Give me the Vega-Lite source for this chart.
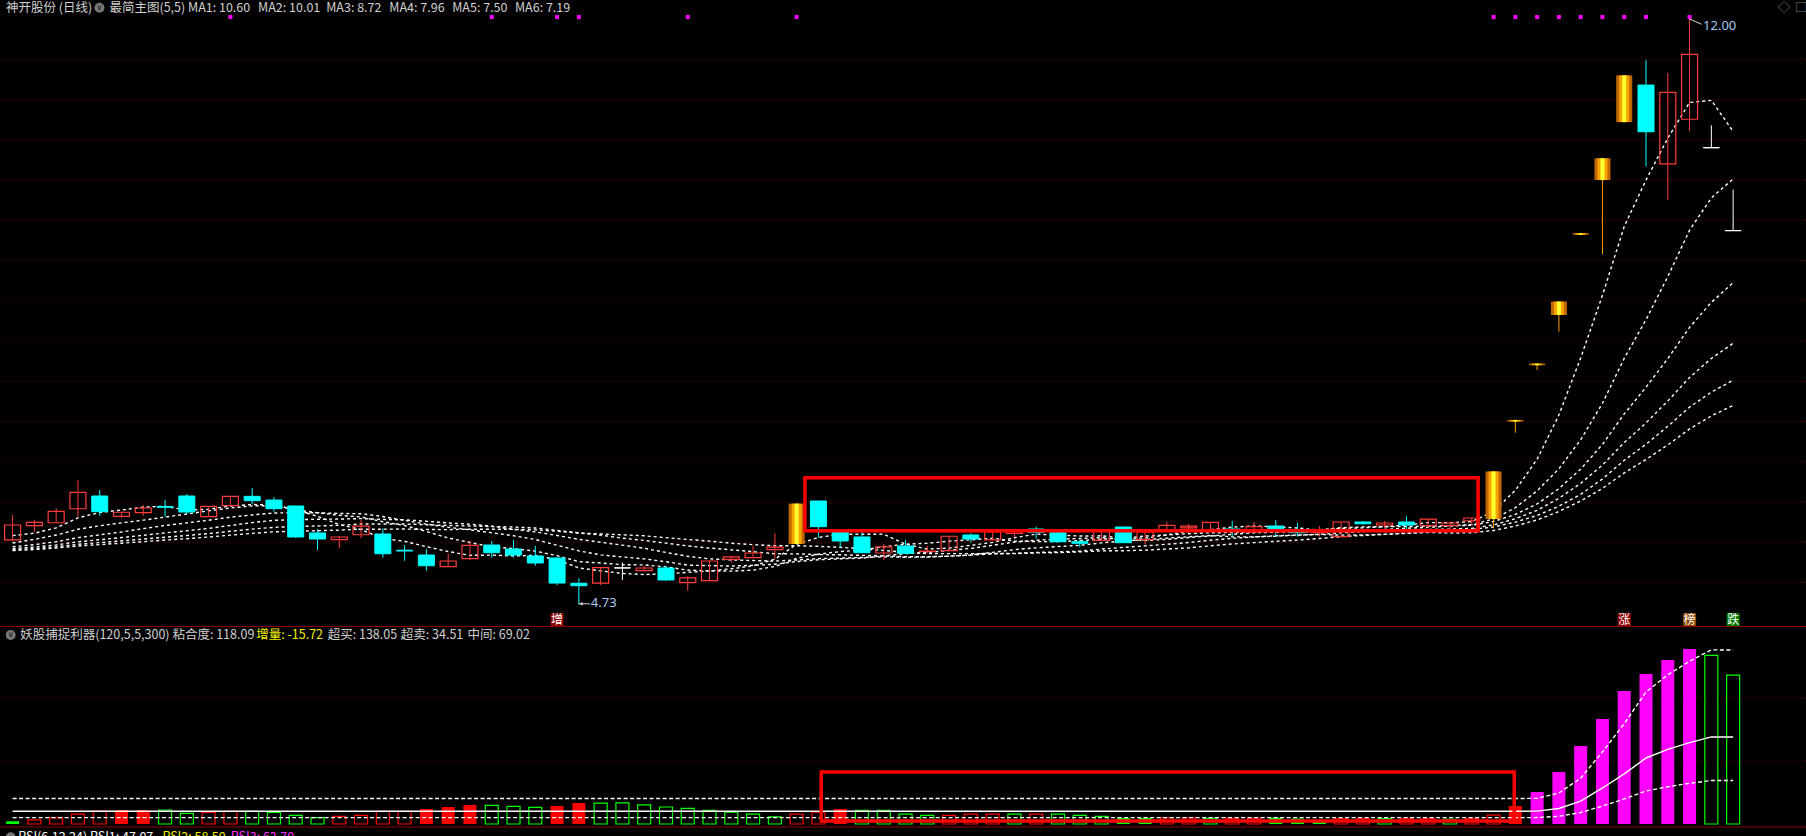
{
"$schema": "https://vega.github.io/schema/vega-lite/v6.json",
"width": 1806,
"height": 836,
"autosize": {"type": "none"},
"padding": 0,
"background": "#000000",
"config": {"view": {"stroke": null}},
"datasets": {
"k": [
{"i":0,"o":5.53,"h":5.84,"l":5.51,"c":5.715,"k":"up","m1":5.583,"m2":5.492,"m3":5.444,"m4":5.421,"m5":5.407,"m6":5.397},
{"i":1,"o":5.706,"h":5.78,"l":5.63,"c":5.748,"k":"up","m1":5.613,"m2":5.536,"m3":5.471,"m4":5.441,"m5":5.423,"m6":5.41},
{"i":2,"o":5.743,"h":5.926,"l":5.743,"c":5.885,"k":"up","m1":5.68,"m2":5.59,"m3":5.507,"m4":5.467,"m5":5.444,"m6":5.428},
{"i":3,"o":5.917,"h":6.274,"l":5.818,"c":6.121,"k":"up","m1":5.804,"m2":5.662,"m3":5.558,"m4":5.506,"m5":5.475,"m6":5.454},
{"i":4,"o":6.075,"h":6.15,"l":5.83,"c":5.88,"k":"dn","m1":5.87,"m2":5.705,"m3":5.593,"m4":5.532,"m5":5.496,"m6":5.472},
{"i":5,"o":5.823,"h":5.873,"l":5.806,"c":5.873,"k":"up","m1":5.901,"m2":5.742,"m3":5.628,"m4":5.559,"m5":5.517,"m6":5.489},
{"i":6,"o":5.868,"h":5.963,"l":5.83,"c":5.926,"k":"up","m1":5.937,"m2":5.775,"m3":5.67,"m4":5.587,"m5":5.54,"m6":5.508},
{"i":7,"o":5.945,"h":6.025,"l":5.818,"c":5.935,"k":"dn","m1":5.947,"m2":5.813,"m3":5.709,"m4":5.617,"m5":5.563,"m6":5.528},
{"i":8,"o":6.075,"h":6.1,"l":5.85,"c":5.876,"k":"dn","m1":5.898,"m2":5.851,"m3":5.741,"m4":5.643,"m5":5.584,"m6":5.545},
{"i":9,"o":5.818,"h":5.95,"l":5.818,"c":5.947,"k":"up","m1":5.911,"m2":5.891,"m3":5.774,"m4":5.673,"m5":5.608,"m6":5.565},
{"i":10,"o":5.955,"h":6.071,"l":5.955,"c":6.071,"k":"up","m1":5.951,"m2":5.926,"m3":5.812,"m4":5.709,"m5":5.637,"m6":5.589},
{"i":11,"o":6.071,"h":6.175,"l":5.972,"c":6.017,"k":"dn","m1":5.969,"m2":5.953,"m3":5.84,"m4":5.745,"m5":5.664,"m6":5.611},
{"i":12,"o":6.025,"h":6.06,"l":5.88,"c":5.917,"k":"dn","m1":5.966,"m2":5.956,"m3":5.864,"m4":5.773,"m5":5.686,"m6":5.63},
{"i":13,"o":5.951,"h":5.955,"l":5.553,"c":5.566,"k":"dn","m1":5.904,"m2":5.901,"m3":5.868,"m4":5.781,"m5":5.695,"m6":5.638},
{"i":14,"o":5.616,"h":5.665,"l":5.404,"c":5.541,"k":"dn","m1":5.822,"m2":5.867,"m3":5.868,"m4":5.786,"m5":5.703,"m6":5.644},
{"i":15,"o":5.532,"h":5.578,"l":5.429,"c":5.566,"k":"up","m1":5.721,"m2":5.836,"m3":5.858,"m4":5.789,"m5":5.711,"m6":5.651},
{"i":16,"o":5.594,"h":5.777,"l":5.553,"c":5.702,"k":"up","m1":5.658,"m2":5.814,"m3":5.855,"m4":5.794,"m5":5.727,"m6":5.663},
{"i":17,"o":5.603,"h":5.674,"l":5.309,"c":5.358,"k":"dn","m1":5.547,"m2":5.756,"m3":5.82,"m4":5.785,"m5":5.728,"m6":5.663},
{"i":18,"o":5.402,"h":5.466,"l":5.271,"c":5.392,"k":"dn","m1":5.512,"m2":5.708,"m3":5.771,"m4":5.779,"m5":5.727,"m6":5.665},
{"i":19,"o":5.342,"h":5.416,"l":5.147,"c":5.209,"k":"dn","m1":5.445,"m2":5.634,"m3":5.726,"m4":5.762,"m5":5.718,"m6":5.66},
{"i":20,"o":5.197,"h":5.355,"l":5.197,"c":5.268,"k":"up","m1":5.386,"m2":5.554,"m3":5.686,"m4":5.74,"m5":5.709,"m6":5.657},
{"i":21,"o":5.296,"h":5.52,"l":5.28,"c":5.463,"k":"up","m1":5.338,"m2":5.498,"m3":5.655,"m4":5.726,"m5":5.703,"m6":5.663},
{"i":22,"o":5.466,"h":5.516,"l":5.309,"c":5.371,"k":"dn","m1":5.341,"m2":5.444,"m3":5.618,"m4":5.7,"m5":5.696,"m6":5.663},
{"i":23,"o":5.416,"h":5.528,"l":5.309,"c":5.342,"k":"dn","m1":5.331,"m2":5.421,"m3":5.582,"m4":5.661,"m5":5.69,"m6":5.661},
{"i":24,"o":5.33,"h":5.454,"l":5.209,"c":5.243,"k":"dn","m1":5.337,"m2":5.391,"m3":5.535,"m4":5.629,"m5":5.677,"m6":5.654},
{"i":25,"o":5.305,"h":5.31,"l":4.97,"c":4.994,"k":"dn","m1":5.283,"m2":5.334,"m3":5.463,"m4":5.585,"m5":5.648,"m6":5.638},
{"i":26,"o":4.991,"h":5.053,"l":4.73,"c":4.961,"k":"dn","m1":5.182,"m2":5.26,"m3":5.393,"m4":5.537,"m5":5.617,"m6":5.616},
{"i":27,"o":4.994,"h":5.19,"l":4.97,"c":5.186,"k":"up","m1":5.145,"m2":5.243,"m3":5.344,"m4":5.5,"m5":5.589,"m6":5.604},
{"i":28,"o":5.183,"h":5.25,"l":5.03,"c":5.18,"k":"fl","m1":5.113,"m2":5.222,"m3":5.318,"m4":5.465,"m5":5.551,"m6":5.593},
{"i":29,"o":5.147,"h":5.21,"l":5.135,"c":5.181,"k":"up","m1":5.1,"m2":5.219,"m3":5.294,"m4":5.426,"m5":5.523,"m6":5.581},
{"i":30,"o":5.181,"h":5.206,"l":5.019,"c":5.032,"k":"dn","m1":5.108,"m2":5.195,"m3":5.259,"m4":5.374,"m5":5.49,"m6":5.558},
{"i":31,"o":4.998,"h":5.082,"l":4.899,"c":5.057,"k":"up","m1":5.127,"m2":5.155,"m3":5.216,"m4":5.326,"m5":5.455,"m6":5.535},
{"i":32,"o":5.023,"h":5.27,"l":5.02,"c":5.268,"k":"up","m1":5.144,"m2":5.144,"m3":5.21,"m4":5.294,"m5":5.428,"m6":5.515},
{"i":33,"o":5.289,"h":5.33,"l":5.247,"c":5.318,"k":"up","m1":5.171,"m2":5.142,"m3":5.205,"m4":5.282,"m5":5.406,"m6":5.488},
{"i":34,"o":5.309,"h":5.458,"l":5.309,"c":5.367,"k":"up","m1":5.208,"m2":5.154,"m3":5.215,"m4":5.273,"m5":5.383,"m6":5.471},
{"i":35,"o":5.408,"h":5.612,"l":5.293,"c":5.441,"k":"up","m1":5.29,"m2":5.199,"m3":5.227,"m4":5.267,"m5":5.358,"m6":5.457},
{"i":36,"o":5.479,"h":5.98,"l":5.479,"c":5.98,"k":"lu","m1":5.475,"m2":5.301,"m3":5.261,"m4":5.281,"m5":5.356,"m6":5.458},
{"i":37,"o":6.013,"h":6.013,"l":5.557,"c":5.694,"k":"dn","m1":5.56,"m2":5.352,"m3":5.283,"m4":5.297,"m5":5.347,"m6":5.45},
{"i":38,"o":5.628,"h":5.662,"l":5.433,"c":5.516,"k":"dn","m1":5.6,"m2":5.385,"m3":5.295,"m4":5.304,"m5":5.345,"m6":5.438},
{"i":39,"o":5.566,"h":5.628,"l":5.37,"c":5.371,"k":"dn","m1":5.6,"m2":5.404,"m3":5.303,"m4":5.312,"m5":5.338,"m6":5.419},
{"i":40,"o":5.367,"h":5.479,"l":5.28,"c":5.442,"k":"up","m1":5.601,"m2":5.445,"m3":5.333,"m4":5.32,"m5":5.333,"m6":5.398},
{"i":41,"o":5.454,"h":5.528,"l":5.36,"c":5.363,"k":"dn","m1":5.477,"m2":5.476,"m3":5.36,"m4":5.315,"m5":5.32,"m6":5.376},
{"i":42,"o":5.385,"h":5.454,"l":5.363,"c":5.39,"k":"up","m1":5.416,"m2":5.488,"m3":5.373,"m4":5.316,"m5":5.321,"m6":5.359},
{"i":43,"o":5.396,"h":5.575,"l":5.396,"c":5.575,"k":"up","m1":5.428,"m2":5.514,"m3":5.4,"m4":5.328,"m5":5.328,"m6":5.359},
{"i":44,"o":5.591,"h":5.612,"l":5.495,"c":5.541,"k":"dn","m1":5.462,"m2":5.531,"m3":5.424,"m4":5.343,"m5":5.342,"m6":5.359},
{"i":45,"o":5.529,"h":5.63,"l":5.529,"c":5.628,"k":"up","m1":5.499,"m2":5.55,"m3":5.463,"m4":5.375,"m5":5.356,"m6":5.361},
{"i":46,"o":5.612,"h":5.644,"l":5.562,"c":5.644,"k":"up","m1":5.556,"m2":5.516,"m3":5.503,"m4":5.409,"m5":5.363,"m6":5.359},
{"i":47,"o":5.665,"h":5.694,"l":5.545,"c":5.624,"k":"dn","m1":5.602,"m2":5.509,"m3":5.526,"m4":5.431,"m5":5.374,"m6":5.368},
{"i":48,"o":5.619,"h":5.644,"l":5.507,"c":5.507,"k":"dn","m1":5.589,"m2":5.509,"m3":5.539,"m4":5.447,"m5":5.38,"m6":5.372},
{"i":49,"o":5.507,"h":5.537,"l":5.438,"c":5.488,"k":"dn","m1":5.578,"m2":5.52,"m3":5.547,"m4":5.462,"m5":5.39,"m6":5.381},
{"i":50,"o":5.525,"h":5.64,"l":5.525,"c":5.64,"k":"up","m1":5.581,"m2":5.54,"m3":5.56,"m4":5.493,"m5":5.416,"m6":5.394},
{"i":51,"o":5.69,"h":5.69,"l":5.49,"c":5.495,"k":"dn","m1":5.551,"m2":5.553,"m3":5.528,"m4":5.515,"m5":5.437,"m6":5.395},
{"i":52,"o":5.532,"h":5.628,"l":5.47,"c":5.628,"k":"up","m1":5.552,"m2":5.577,"m3":5.523,"m4":5.533,"m5":5.455,"m6":5.403},
{"i":53,"o":5.653,"h":5.752,"l":5.653,"c":5.711,"k":"up","m1":5.592,"m2":5.591,"m3":5.536,"m4":5.552,"m5":5.476,"m6":5.416},
{"i":54,"o":5.678,"h":5.727,"l":5.653,"c":5.702,"k":"up","m1":5.635,"m2":5.607,"m3":5.559,"m4":5.569,"m5":5.497,"m6":5.431},
{"i":55,"o":5.657,"h":5.75,"l":5.657,"c":5.748,"k":"up","m1":5.657,"m2":5.619,"m3":5.579,"m4":5.584,"m5":5.526,"m6":5.456},
{"i":56,"o":5.665,"h":5.765,"l":5.57,"c":5.655,"k":"dn","m1":5.689,"m2":5.62,"m3":5.598,"m4":5.568,"m5":5.549,"m6":5.479},
{"i":57,"o":5.632,"h":5.752,"l":5.632,"c":5.694,"k":"up","m1":5.702,"m2":5.627,"m3":5.619,"m4":5.568,"m5":5.566,"m6":5.496},
{"i":58,"o":5.702,"h":5.777,"l":5.57,"c":5.669,"k":"dn","m1":5.694,"m2":5.643,"m3":5.625,"m4":5.576,"m5":5.581,"m6":5.512},
{"i":59,"o":5.629,"h":5.74,"l":5.57,"c":5.619,"k":"dn","m1":5.677,"m2":5.656,"m3":5.63,"m4":5.588,"m5":5.591,"m6":5.527},
{"i":60,"o":5.62,"h":5.702,"l":5.57,"c":5.63,"k":"up","m1":5.653,"m2":5.655,"m3":5.63,"m4":5.598,"m5":5.598,"m6":5.547},
{"i":61,"o":5.57,"h":5.752,"l":5.57,"c":5.752,"k":"up","m1":5.673,"m2":5.681,"m3":5.637,"m4":5.617,"m5":5.589,"m6":5.57},
{"i":62,"o":5.752,"h":5.764,"l":5.72,"c":5.731,"k":"dn","m1":5.68,"m2":5.691,"m3":5.645,"m4":5.634,"m5":5.591,"m6":5.585},
{"i":63,"o":5.715,"h":5.764,"l":5.674,"c":5.74,"k":"up","m1":5.694,"m2":5.694,"m3":5.66,"m4":5.642,"m5":5.599,"m6":5.6},
{"i":64,"o":5.752,"h":5.826,"l":5.653,"c":5.715,"k":"dn","m1":5.714,"m2":5.695,"m3":5.675,"m4":5.651,"m5":5.613,"m6":5.611},
{"i":65,"o":5.706,"h":5.789,"l":5.674,"c":5.789,"k":"up","m1":5.745,"m2":5.699,"m3":5.685,"m4":5.659,"m5":5.627,"m6":5.623},
{"i":66,"o":5.706,"h":5.756,"l":5.665,"c":5.74,"k":"up","m1":5.743,"m2":5.708,"m3":5.702,"m4":5.664,"m5":5.642,"m6":5.615},
{"i":67,"o":5.768,"h":5.802,"l":5.715,"c":5.802,"k":"up","m1":5.757,"m2":5.719,"m3":5.713,"m4":5.673,"m5":5.659,"m6":5.618},
{"i":68,"o":5.789,"h":6.38,"l":5.674,"c":6.38,"k":"lu","m1":5.885,"m2":5.79,"m3":5.758,"m4":5.716,"m5":5.691,"m6":5.647},
{"i":69,"o":7.0,"h":7.02,"l":6.862,"c":7.02,"k":"lu","m1":6.146,"m2":5.93,"m3":5.846,"m4":5.793,"m5":5.75,"m6":5.702},
{"i":70,"o":7.7,"h":7.72,"l":7.64,"c":7.72,"k":"lu","m1":6.532,"m2":6.139,"m3":5.977,"m4":5.897,"m5":5.834,"m6":5.778},
{"i":71,"o":8.324,"h":8.49,"l":8.116,"c":8.49,"k":"lu","m1":7.082,"m2":6.413,"m3":6.166,"m4":6.047,"m5":5.948,"m6":5.882},
{"i":72,"o":9.32,"h":9.34,"l":9.32,"c":9.34,"k":"lu","m1":7.79,"m2":6.774,"m3":6.409,"m4":6.232,"m5":6.096,"m6":6.014},
{"i":73,"o":10.0,"h":10.27,"l":9.08,"c":10.27,"k":"lu","m1":8.568,"m2":7.227,"m3":6.716,"m4":6.46,"m5":6.287,"m6":6.17},
{"i":74,"o":10.72,"h":11.3,"l":10.72,"c":11.3,"k":"lu","m1":9.424,"m2":7.785,"m3":7.095,"m4":6.74,"m5":6.519,"m6":6.362},
{"i":75,"o":11.18,"h":11.49,"l":10.17,"c":10.6,"k":"dn","m1":10.0,"m2":8.266,"m3":7.426,"m4":6.983,"m5":6.718,"m6":6.528},
{"i":76,"o":10.2,"h":11.33,"l":9.75,"c":11.09,"k":"up","m1":10.52,"m2":8.801,"m3":7.782,"m4":7.255,"m5":6.941,"m6":6.71},
{"i":77,"o":10.755,"h":12.0,"l":10.61,"c":11.56,"k":"up","m1":10.964,"m2":9.377,"m3":8.17,"m4":7.548,"m5":7.179,"m6":6.908},
{"i":78,"o":10.403,"h":10.68,"l":10.4,"c":10.4,"k":"fl","m1":10.99,"m2":9.779,"m3":8.481,"m4":7.784,"m5":7.366,"m6":7.071},
{"i":79,"o":9.373,"h":9.88,"l":9.37,"c":9.37,"k":"fl","m1":10.604,"m2":10.014,"m3":8.725,"m4":7.972,"m5":7.513,"m6":7.2}
],
"ind": [
{"i":0,"v":2.1,"t":"gf","hi":20.2,"md":10.1,"lo":5.05},
{"i":1,"v":3.2,"t":"rh","hi":20.2,"md":10.1,"lo":5.05},
{"i":2,"v":4.8,"t":"rh","hi":20.2,"md":10.1,"lo":5.05},
{"i":3,"v":7.9,"t":"rh","hi":20.2,"md":10.1,"lo":5.05},
{"i":4,"v":10.3,"t":"rh","hi":20.2,"md":10.1,"lo":5.05},
{"i":5,"v":11.1,"t":"rf","hi":20.2,"md":10.1,"lo":5.05},
{"i":6,"v":11.1,"t":"rf","hi":20.2,"md":10.1,"lo":5.05},
{"i":7,"v":11.1,"t":"gh","hi":20.2,"md":10.1,"lo":5.05},
{"i":8,"v":8.5,"t":"gh","hi":20.2,"md":10.1,"lo":5.05},
{"i":9,"v":9.3,"t":"rh","hi":20.2,"md":10.1,"lo":5.05},
{"i":10,"v":10.1,"t":"rh","hi":20.2,"md":10.1,"lo":5.05},
{"i":11,"v":10.1,"t":"gh","hi":20.2,"md":10.1,"lo":5.05},
{"i":12,"v":9.3,"t":"gh","hi":20.2,"md":10.1,"lo":5.05},
{"i":13,"v":6.9,"t":"gh","hi":20.2,"md":10.1,"lo":5.05},
{"i":14,"v":5.0,"t":"gh","hi":20.2,"md":10.1,"lo":5.05},
{"i":15,"v":6.1,"t":"rh","hi":20.2,"md":10.1,"lo":5.05},
{"i":16,"v":6.9,"t":"rh","hi":20.2,"md":10.1,"lo":5.05},
{"i":17,"v":10.1,"t":"rh","hi":20.2,"md":10.1,"lo":5.05},
{"i":18,"v":10.1,"t":"rh","hi":20.2,"md":10.1,"lo":5.05},
{"i":19,"v":11.9,"t":"rf","hi":20.2,"md":10.1,"lo":5.05},
{"i":20,"v":13.5,"t":"rf","hi":20.2,"md":10.1,"lo":5.05},
{"i":21,"v":15.1,"t":"rf","hi":20.2,"md":10.1,"lo":5.05},
{"i":22,"v":14.8,"t":"gh","hi":20.2,"md":10.1,"lo":5.05},
{"i":23,"v":14.0,"t":"gh","hi":20.2,"md":10.1,"lo":5.05},
{"i":24,"v":13.2,"t":"gh","hi":20.2,"md":10.1,"lo":5.05},
{"i":25,"v":14.3,"t":"rf","hi":20.2,"md":10.1,"lo":5.05},
{"i":26,"v":16.7,"t":"rf","hi":20.2,"md":10.1,"lo":5.05},
{"i":27,"v":16.5,"t":"gh","hi":20.2,"md":10.1,"lo":5.05},
{"i":28,"v":16.7,"t":"gh","hi":20.2,"md":10.1,"lo":5.05},
{"i":29,"v":15.1,"t":"gh","hi":20.2,"md":10.1,"lo":5.05},
{"i":30,"v":13.5,"t":"gh","hi":20.2,"md":10.1,"lo":5.05},
{"i":31,"v":12.4,"t":"gh","hi":20.2,"md":10.1,"lo":5.05},
{"i":32,"v":10.9,"t":"gh","hi":20.2,"md":10.1,"lo":5.05},
{"i":33,"v":9.5,"t":"gh","hi":20.2,"md":10.1,"lo":5.05},
{"i":34,"v":7.9,"t":"gh","hi":20.2,"md":10.1,"lo":5.05},
{"i":35,"v":5.6,"t":"gh","hi":20.2,"md":10.1,"lo":5.05},
{"i":36,"v":7.9,"t":"rh","hi":20.2,"md":10.1,"lo":5.05},
{"i":37,"v":9.5,"t":"rh","hi":20.2,"md":10.1,"lo":5.05},
{"i":38,"v":11.9,"t":"rf","hi":20.2,"md":10.1,"lo":5.05},
{"i":39,"v":10.9,"t":"gh","hi":20.2,"md":10.1,"lo":5.05},
{"i":40,"v":10.9,"t":"gh","hi":20.2,"md":10.1,"lo":5.05},
{"i":41,"v":7.9,"t":"gh","hi":20.2,"md":10.1,"lo":5.05},
{"i":42,"v":6.9,"t":"gh","hi":20.2,"md":10.1,"lo":5.05},
{"i":43,"v":6.9,"t":"rh","hi":20.2,"md":10.1,"lo":5.05},
{"i":44,"v":7.9,"t":"rh","hi":20.2,"md":10.1,"lo":5.05},
{"i":45,"v":7.9,"t":"rh","hi":20.2,"md":10.1,"lo":5.05},
{"i":46,"v":7.9,"t":"gh","hi":20.2,"md":10.1,"lo":5.05},
{"i":47,"v":7.9,"t":"rh","hi":20.2,"md":10.1,"lo":5.05},
{"i":48,"v":7.9,"t":"gh","hi":20.2,"md":10.1,"lo":5.05},
{"i":49,"v":6.9,"t":"gh","hi":20.2,"md":10.1,"lo":5.05},
{"i":50,"v":6.1,"t":"gh","hi":20.2,"md":10.1,"lo":5.05},
{"i":51,"v":4.8,"t":"gf","hi":20.2,"md":10.1,"lo":5.05},
{"i":52,"v":4.8,"t":"gf","hi":20.2,"md":10.1,"lo":5.05},
{"i":53,"v":4.8,"t":"rh","hi":20.2,"md":10.1,"lo":5.05},
{"i":54,"v":4.8,"t":"rh","hi":20.2,"md":10.1,"lo":5.05},
{"i":55,"v":4.5,"t":"gh","hi":20.2,"md":10.1,"lo":5.05},
{"i":56,"v":4.5,"t":"rh","hi":20.2,"md":10.1,"lo":5.05},
{"i":57,"v":4.5,"t":"rh","hi":20.2,"md":10.1,"lo":5.05},
{"i":58,"v":5.0,"t":"gf","hi":20.2,"md":10.1,"lo":5.05},
{"i":59,"v":4.3,"t":"gf","hi":20.2,"md":10.1,"lo":5.05},
{"i":60,"v":2.9,"t":"gf","hi":20.2,"md":10.1,"lo":5.05},
{"i":61,"v":4.3,"t":"rh","hi":20.2,"md":10.1,"lo":5.05},
{"i":62,"v":4.3,"t":"rh","hi":20.2,"md":10.1,"lo":5.05},
{"i":63,"v":4.3,"t":"gh","hi":20.2,"md":10.1,"lo":5.05},
{"i":64,"v":4.3,"t":"rh","hi":20.2,"md":10.1,"lo":5.05},
{"i":65,"v":4.3,"t":"rh","hi":20.2,"md":10.1,"lo":5.05},
{"i":66,"v":3.7,"t":"gh","hi":20.2,"md":10.1,"lo":5.05},
{"i":67,"v":4.3,"t":"rh","hi":20.2,"md":10.1,"lo":5.05},
{"i":68,"v":7.1,"t":"rh","hi":20.2,"md":10.1,"lo":5.05},
{"i":69,"v":14.3,"t":"rf","hi":20.2,"md":10.1,"lo":5.05},
{"i":70,"v":25.4,"t":"mf","hi":20.4,"md":10.2,"lo":5.1},
{"i":71,"v":41.3,"t":"mf","hi":24.6,"md":12.3,"lo":6.15},
{"i":72,"v":61.9,"t":"mf","hi":36.4,"md":18.2,"lo":9.1},
{"i":73,"v":83.3,"t":"mf","hi":57.2,"md":28.6,"lo":14.3},
{"i":74,"v":105.6,"t":"mf","hi":79.6,"md":39.8,"lo":19.9},
{"i":75,"v":119.0,"t":"mf","hi":104.8,"md":52.4,"lo":26.2},
{"i":76,"v":130.2,"t":"mf","hi":118.4,"md":59.2,"lo":29.6},
{"i":77,"v":138.9,"t":"mf","hi":129.2,"md":64.6,"lo":32.3},
{"i":78,"v":133.81,"t":"gh","hi":138.2,"md":69.1,"lo":34.55},
{"i":79,"v":118.09,"t":"gh","hi":138.05,"md":69.02,"lo":34.51}
],
"grid": [{"p":5},{"p":5.5},{"p":6},{"p":6.5},{"p":7},{"p":7.5},{"p":8},{"p":8.5},{"p":9},{"p":9.5},{"p":10},{"p":10.5},{"p":11},{"p":11.5}],
"igrid": [{"v":50},{"v":100}],
"sep": [{"v":156.75},{"v":-2.38}],
"dots": [{"i":10},{"i":22},{"i":25},{"i":26},{"i":31},{"i":36},{"i":68},{"i":69},{"i":70},{"i":71},{"i":72},{"i":73},{"i":74},{"i":75},{"i":77}],
"labels": [{"i":25,"t":"增"},{"i":74,"t":"涨"},{"i":77,"t":"榜"},{"i":79,"t":"跌"}],
"box1": [{"x1":36.38,"x2":67.29,"p1":6.302,"p2":5.644}],
"box2": [{"x1":37.13,"x2":68.95,"v1":41.3,"v2":2.4}],
"ann": [{"x1":25.97,"x2":26.5,"p1":4.736,"p2":4.736},{"x1":77.0,"x2":77.55,"p1":12.0,"p2":11.935}],
"arrowhead": [{"x":26.1,"p":4.736}],
"annt": [{"x":26.55,"p":4.745,"t":"4.73"},{"x":77.62,"p":11.917,"t":"12.00"}],
"th": [
{"x":-0.304,"t":"神开股份 (日线)","c":"w"},
{"x":4.445,"t":"最简主图(5,5)","c":"w"},
{"x":8.053,"t":"MA1: 10.60","c":"w"},
{"x":11.272,"t":"MA2: 10.01","c":"w"},
{"x":14.4,"t":"MA3: 8.72","c":"w"},
{"x":17.299,"t":"MA4: 7.96","c":"w"},
{"x":20.185,"t":"MA5: 7.50","c":"w"},
{"x":23.066,"t":"MA6: 7.19","c":"w"},
{"x":81.05,"t":"◇","c":"g"},
{"x":81.84,"t":"□","c":"g"}
],
"bh": [
{"x":0.349,"t":"妖股捕捉利器(120,5,5,300) 粘合度: 118.09","c":"w"},
{"x":11.185,"t":"增量: -15.72","c":"y"},
{"x":14.468,"t":"超买: 138.05","c":"w"},
{"x":17.824,"t":"超卖: 34.51","c":"w"},
{"x":20.884,"t":"中间: 69.02","c":"w"}
],
"rh": [
{"x":0.258,"t":"RSI(6,12,24) RSI1: 47.07","c":"wh"},
{"x":6.879,"t":"RSI2: 58.50","c":"y"},
{"x":10.02,"t":"RSI3: 62.70","c":"m"}
],
"icon1": [{"x":3.988}],
"icon2": [{"x":-0.089}]
},
"layer": [
{
"layer": [
{"data":{"name":"grid"},"mark":{"type":"rule","color":"#700000","strokeDash":[1,3],"strokeWidth":1},
 "encoding":{"y":{"field":"p","type":"quantitative","scale":{"domain":[1.85155,12.23665],"nice":false,"zero":false},"axis":null}}},
{"data":{"name":"k"},"mark":{"type":"line","color":"#ffffff","strokeDash":[3,3],"strokeWidth":1.4},
 "encoding":{"x":{"field":"i","type":"quantitative","scale":{"domain":[-0.3493,82.1164],"nice":false,"zero":false},"axis":null},"y":{"field":"m1","type":"quantitative","scale":{"domain":[1.85155,12.23665],"nice":false,"zero":false},"axis":null}}},
{"data":{"name":"k"},"mark":{"type":"line","color":"#ffffff","strokeDash":[3,3],"strokeWidth":1.4},
 "encoding":{"x":{"field":"i","type":"quantitative","scale":{"domain":[-0.3493,82.1164],"nice":false,"zero":false},"axis":null},"y":{"field":"m2","type":"quantitative","scale":{"domain":[1.85155,12.23665],"nice":false,"zero":false},"axis":null}}},
{"data":{"name":"k"},"mark":{"type":"line","color":"#ffffff","strokeDash":[3,3],"strokeWidth":1.4},
 "encoding":{"x":{"field":"i","type":"quantitative","scale":{"domain":[-0.3493,82.1164],"nice":false,"zero":false},"axis":null},"y":{"field":"m3","type":"quantitative","scale":{"domain":[1.85155,12.23665],"nice":false,"zero":false},"axis":null}}},
{"data":{"name":"k"},"mark":{"type":"line","color":"#ffffff","strokeDash":[3,3],"strokeWidth":1.4},
 "encoding":{"x":{"field":"i","type":"quantitative","scale":{"domain":[-0.3493,82.1164],"nice":false,"zero":false},"axis":null},"y":{"field":"m4","type":"quantitative","scale":{"domain":[1.85155,12.23665],"nice":false,"zero":false},"axis":null}}},
{"data":{"name":"k"},"mark":{"type":"line","color":"#ffffff","strokeDash":[3,3],"strokeWidth":1.4},
 "encoding":{"x":{"field":"i","type":"quantitative","scale":{"domain":[-0.3493,82.1164],"nice":false,"zero":false},"axis":null},"y":{"field":"m5","type":"quantitative","scale":{"domain":[1.85155,12.23665],"nice":false,"zero":false},"axis":null}}},
{"data":{"name":"k"},"mark":{"type":"line","color":"#ffffff","strokeDash":[3,3],"strokeWidth":1.4},
 "encoding":{"x":{"field":"i","type":"quantitative","scale":{"domain":[-0.3493,82.1164],"nice":false,"zero":false},"axis":null},"y":{"field":"m6","type":"quantitative","scale":{"domain":[1.85155,12.23665],"nice":false,"zero":false},"axis":null}}},
{"data":{"name":"k"},"transform":[{"filter":"datum.k==='up'"}],"mark":{"type":"rule","color":"#ff3c3c","strokeWidth":1},
 "encoding":{"x":{"field":"i","type":"quantitative","scale":{"domain":[-0.3493,82.1164],"nice":false,"zero":false},"axis":null},"y":{"field":"l","type":"quantitative","scale":{"domain":[1.85155,12.23665],"nice":false,"zero":false},"axis":null},"y2":{"field":"h"}}},
{"data":{"name":"k"},"transform":[{"filter":"datum.k==='dn'"}],"mark":{"type":"rule","color":"#00ffff","strokeWidth":1},
 "encoding":{"x":{"field":"i","type":"quantitative","scale":{"domain":[-0.3493,82.1164],"nice":false,"zero":false},"axis":null},"y":{"field":"l","type":"quantitative","scale":{"domain":[1.85155,12.23665],"nice":false,"zero":false},"axis":null},"y2":{"field":"h"}}},
{"data":{"name":"k"},"transform":[{"filter":"datum.k==='fl'"}],"mark":{"type":"rule","color":"#ffffff","strokeWidth":1},
 "encoding":{"x":{"field":"i","type":"quantitative","scale":{"domain":[-0.3493,82.1164],"nice":false,"zero":false},"axis":null},"y":{"field":"l","type":"quantitative","scale":{"domain":[1.85155,12.23665],"nice":false,"zero":false},"axis":null},"y2":{"field":"h"}}},
{"data":{"name":"k"},"transform":[{"filter":"datum.k==='lu'"}],"mark":{"type":"rule","color":"#ff9a00","strokeWidth":1},
 "encoding":{"x":{"field":"i","type":"quantitative","scale":{"domain":[-0.3493,82.1164],"nice":false,"zero":false},"axis":null},"y":{"field":"l","type":"quantitative","scale":{"domain":[1.85155,12.23665],"nice":false,"zero":false},"axis":null},"y2":{"field":"h"}}},
{"data":{"name":"k"},"transform":[{"filter":"datum.k==='up'"}],"mark":{"type":"bar","width":16,"filled":false,"color":"#ff3c3c","strokeWidth":1.2},
 "encoding":{"x":{"field":"i","type":"quantitative","scale":{"domain":[-0.3493,82.1164],"nice":false,"zero":false},"axis":null},"y":{"field":"o","type":"quantitative","scale":{"domain":[1.85155,12.23665],"nice":false,"zero":false},"axis":null},"y2":{"field":"c"}}},
{"data":{"name":"k"},"transform":[{"filter":"datum.k==='dn'"}],"mark":{"type":"bar","width":16,"color":"#00ffff","stroke":"#00ffff","strokeWidth":1},
 "encoding":{"x":{"field":"i","type":"quantitative","scale":{"domain":[-0.3493,82.1164],"nice":false,"zero":false},"axis":null},"y":{"field":"o","type":"quantitative","scale":{"domain":[1.85155,12.23665],"nice":false,"zero":false},"axis":null},"y2":{"field":"c"}}},
{"data":{"name":"k"},"transform":[{"filter":"datum.k==='fl'"}],"mark":{"type":"bar","width":16,"color":"#ffffff","stroke":"#ffffff","strokeWidth":1},
 "encoding":{"x":{"field":"i","type":"quantitative","scale":{"domain":[-0.3493,82.1164],"nice":false,"zero":false},"axis":null},"y":{"field":"o","type":"quantitative","scale":{"domain":[1.85155,12.23665],"nice":false,"zero":false},"axis":null},"y2":{"field":"c"}}},
{"data":{"name":"k"},"transform":[{"filter":"datum.k==='lu'"}],"mark":{"type":"bar","width":16,"color":"#c06800"},
 "encoding":{"x":{"field":"i","type":"quantitative","scale":{"domain":[-0.3493,82.1164],"nice":false,"zero":false},"axis":null},"y":{"field":"o","type":"quantitative","scale":{"domain":[1.85155,12.23665],"nice":false,"zero":false},"axis":null},"y2":{"field":"c"}}},
{"data":{"name":"k"},"transform":[{"filter":"datum.k==='lu'"}],"mark":{"type":"bar","width":10,"color":"#f7a300"},
 "encoding":{"x":{"field":"i","type":"quantitative","scale":{"domain":[-0.3493,82.1164],"nice":false,"zero":false},"axis":null},"y":{"field":"o","type":"quantitative","scale":{"domain":[1.85155,12.23665],"nice":false,"zero":false},"axis":null},"y2":{"field":"c"}}},
{"data":{"name":"k"},"transform":[{"filter":"datum.k==='lu'"}],"mark":{"type":"bar","width":4,"color":"#ffff30"},
 "encoding":{"x":{"field":"i","type":"quantitative","scale":{"domain":[-0.3493,82.1164],"nice":false,"zero":false},"axis":null},"y":{"field":"o","type":"quantitative","scale":{"domain":[1.85155,12.23665],"nice":false,"zero":false},"axis":null},"y2":{"field":"c"}}},
{"data":{"name":"box1"},"mark":{"type":"rect","filled":false,"color":"#ff0000","strokeWidth":3.5},
 "encoding":{"x":{"field":"x1","type":"quantitative","scale":{"domain":[-0.3493,82.1164],"nice":false,"zero":false},"axis":null},"x2":{"field":"x2"},"y":{"field":"p1","type":"quantitative","scale":{"domain":[1.85155,12.23665],"nice":false,"zero":false},"axis":null},"y2":{"field":"p2"}}},
{"data":{"name":"dots"},"mark":{"type":"square","color":"#ff00ff","size":16,"filled":true,"opacity":1},
 "encoding":{"x":{"field":"i","type":"quantitative","scale":{"domain":[-0.3493,82.1164],"nice":false,"zero":false},"axis":null},"y":{"datum":12.025,"type":"quantitative","scale":{"domain":[1.85155,12.23665],"nice":false,"zero":false},"axis":null}}},
{"data":{"name":"labels"},"mark":{"type":"square","size":169,"filled":true,"opacity":1},
 "encoding":{"x":{"field":"i","type":"quantitative","scale":{"domain":[-0.3493,82.1164],"nice":false,"zero":false},"axis":null},"y":{"datum":4.54,"type":"quantitative","scale":{"domain":[1.85155,12.23665],"nice":false,"zero":false},"axis":null},
  "fill":{"field":"t","type":"nominal","scale":{"domain":["增","涨","榜","跌"],"range":["#8b0000","#8b0000","#8b4800","#007800"]},"legend":null}}},
{"data":{"name":"labels"},"mark":{"type":"text","color":"#ffffff","fontSize":12,"font":"Noto Sans CJK SC","baseline":"middle","align":"center"},
 "encoding":{"x":{"field":"i","type":"quantitative","scale":{"domain":[-0.3493,82.1164],"nice":false,"zero":false},"axis":null},"y":{"datum":4.54,"type":"quantitative","scale":{"domain":[1.85155,12.23665],"nice":false,"zero":false},"axis":null},"text":{"field":"t"}}},
{"data":{"name":"ann"},"mark":{"type":"rule","color":"#d8d8d8","strokeWidth":1},
 "encoding":{"x":{"field":"x1","type":"quantitative","scale":{"domain":[-0.3493,82.1164],"nice":false,"zero":false},"axis":null},"x2":{"field":"x2"},"y":{"field":"p1","type":"quantitative","scale":{"domain":[1.85155,12.23665],"nice":false,"zero":false},"axis":null},"y2":{"field":"p2"}}},
{"data":{"name":"arrowhead"},"mark":{"type":"point","shape":"triangle-left","size":14,"filled":true,"color":"#d8d8d8","opacity":1},
 "encoding":{"x":{"field":"x","type":"quantitative","scale":{"domain":[-0.3493,82.1164],"nice":false,"zero":false},"axis":null},"y":{"field":"p","type":"quantitative","scale":{"domain":[1.85155,12.23665],"nice":false,"zero":false},"axis":null}}},
{"data":{"name":"annt"},"mark":{"type":"text","color":"#a8c8f0","fontSize":13,"font":"Noto Sans","baseline":"middle","align":"left"},
 "encoding":{"x":{"field":"x","type":"quantitative","scale":{"domain":[-0.3493,82.1164],"nice":false,"zero":false},"axis":null},"y":{"field":"p","type":"quantitative","scale":{"domain":[1.85155,12.23665],"nice":false,"zero":false},"axis":null},"text":{"field":"t"}}},
{"data":{"name":"icon1"},"mark":{"type":"circle","color":"#777777","size":100,"opacity":1},
 "encoding":{"x":{"field":"x","type":"quantitative","scale":{"domain":[-0.3493,82.1164],"nice":false,"zero":false},"axis":null},"y":{"datum":12.14,"type":"quantitative","scale":{"domain":[1.85155,12.23665],"nice":false,"zero":false},"axis":null}}},
{"data":{"name":"icon1"},"mark":{"type":"text","text":"∨","color":"#1a1a1a","fontSize":8,"font":"DejaVu Sans","baseline":"middle","align":"center"},
 "encoding":{"x":{"field":"x","type":"quantitative","scale":{"domain":[-0.3493,82.1164],"nice":false,"zero":false},"axis":null},"y":{"datum":12.14,"type":"quantitative","scale":{"domain":[1.85155,12.23665],"nice":false,"zero":false},"axis":null}}},
{"data":{"name":"th"},"mark":{"type":"text","fontSize":12.5,"font":"Noto Sans CJK SC","baseline":"middle","align":"left"},
 "encoding":{"x":{"field":"x","type":"quantitative","scale":{"domain":[-0.3493,82.1164],"nice":false,"zero":false},"axis":null},"y":{"datum":12.14,"type":"quantitative","scale":{"domain":[1.85155,12.23665],"nice":false,"zero":false},"axis":null},"text":{"field":"t"},
  "color":{"field":"c","type":"nominal","scale":{"domain":["w","wh","y","m","g"],"range":["#d0d0d0","#ffffff","#f0f000","#ff33ff","#808080"]},"legend":null}}}
]
},
{
"layer": [
{"data":{"name":"igrid"},"mark":{"type":"rule","color":"#700000","strokeDash":[1,3],"strokeWidth":1},
 "encoding":{"y":{"field":"v","type":"quantitative","scale":{"domain":[-9.524,653.968],"nice":false,"zero":false},"axis":null}}},
{"data":{"name":"sep"},"mark":{"type":"rule","color":"#8b0000","strokeWidth":1},
 "encoding":{"y":{"field":"v","type":"quantitative","scale":{"domain":[-9.524,653.968],"nice":false,"zero":false},"axis":null}}},
{"data":{"name":"ind"},"transform":[{"filter":"datum.t==='rh'"}],"mark":{"type":"bar","width":13,"filled":false,"color":"#ff0000","strokeWidth":1.2},
 "encoding":{"x":{"field":"i","type":"quantitative","scale":{"domain":[-0.3493,82.1164],"nice":false,"zero":false},"axis":null},"y":{"field":"v","type":"quantitative","scale":{"domain":[-9.524,653.968],"nice":false,"zero":false},"axis":null},"y2":{"datum":0}}},
{"data":{"name":"ind"},"transform":[{"filter":"datum.t==='gh'"}],"mark":{"type":"bar","width":13,"filled":false,"color":"#00ff00","strokeWidth":1.2},
 "encoding":{"x":{"field":"i","type":"quantitative","scale":{"domain":[-0.3493,82.1164],"nice":false,"zero":false},"axis":null},"y":{"field":"v","type":"quantitative","scale":{"domain":[-9.524,653.968],"nice":false,"zero":false},"axis":null},"y2":{"datum":0}}},
{"data":{"name":"ind"},"transform":[{"filter":"datum.t==='rf'"}],"mark":{"type":"bar","width":13,"color":"#ff0000"},
 "encoding":{"x":{"field":"i","type":"quantitative","scale":{"domain":[-0.3493,82.1164],"nice":false,"zero":false},"axis":null},"y":{"field":"v","type":"quantitative","scale":{"domain":[-9.524,653.968],"nice":false,"zero":false},"axis":null},"y2":{"datum":0}}},
{"data":{"name":"ind"},"transform":[{"filter":"datum.t==='gf'"}],"mark":{"type":"bar","width":13,"color":"#00ff00"},
 "encoding":{"x":{"field":"i","type":"quantitative","scale":{"domain":[-0.3493,82.1164],"nice":false,"zero":false},"axis":null},"y":{"field":"v","type":"quantitative","scale":{"domain":[-9.524,653.968],"nice":false,"zero":false},"axis":null},"y2":{"datum":0}}},
{"data":{"name":"ind"},"transform":[{"filter":"datum.t==='mf'"}],"mark":{"type":"bar","width":13,"color":"#ff00ff"},
 "encoding":{"x":{"field":"i","type":"quantitative","scale":{"domain":[-0.3493,82.1164],"nice":false,"zero":false},"axis":null},"y":{"field":"v","type":"quantitative","scale":{"domain":[-9.524,653.968],"nice":false,"zero":false},"axis":null},"y2":{"datum":0}}},
{"data":{"name":"ind"},"mark":{"type":"line","color":"#ffffff","strokeDash":[4,2.5],"strokeWidth":1.4},
 "encoding":{"x":{"field":"i","type":"quantitative","scale":{"domain":[-0.3493,82.1164],"nice":false,"zero":false},"axis":null},"y":{"field":"hi","type":"quantitative","scale":{"domain":[-9.524,653.968],"nice":false,"zero":false},"axis":null}}},
{"data":{"name":"ind"},"mark":{"type":"line","color":"#ffffff","strokeWidth":1.4},
 "encoding":{"x":{"field":"i","type":"quantitative","scale":{"domain":[-0.3493,82.1164],"nice":false,"zero":false},"axis":null},"y":{"field":"md","type":"quantitative","scale":{"domain":[-9.524,653.968],"nice":false,"zero":false},"axis":null}}},
{"data":{"name":"ind"},"mark":{"type":"line","color":"#ffffff","strokeDash":[4,2.5],"strokeWidth":1.4},
 "encoding":{"x":{"field":"i","type":"quantitative","scale":{"domain":[-0.3493,82.1164],"nice":false,"zero":false},"axis":null},"y":{"field":"lo","type":"quantitative","scale":{"domain":[-9.524,653.968],"nice":false,"zero":false},"axis":null}}},
{"data":{"name":"box2"},"mark":{"type":"rect","filled":false,"color":"#ff0000","strokeWidth":3.5},
 "encoding":{"x":{"field":"x1","type":"quantitative","scale":{"domain":[-0.3493,82.1164],"nice":false,"zero":false},"axis":null},"x2":{"field":"x2"},"y":{"field":"v1","type":"quantitative","scale":{"domain":[-9.524,653.968],"nice":false,"zero":false},"axis":null},"y2":{"field":"v2"}}},
{"data":{"name":"icon2"},"mark":{"type":"circle","color":"#777777","size":100,"opacity":1},
 "encoding":{"x":{"field":"x","type":"quantitative","scale":{"domain":[-0.3493,82.1164],"nice":false,"zero":false},"axis":null},"y":{"datum":150,"type":"quantitative","scale":{"domain":[-9.524,653.968],"nice":false,"zero":false},"axis":null}}},
{"data":{"name":"icon2"},"mark":{"type":"text","text":"∨","color":"#1a1a1a","fontSize":8,"font":"DejaVu Sans","baseline":"middle","align":"center"},
 "encoding":{"x":{"field":"x","type":"quantitative","scale":{"domain":[-0.3493,82.1164],"nice":false,"zero":false},"axis":null},"y":{"datum":150,"type":"quantitative","scale":{"domain":[-9.524,653.968],"nice":false,"zero":false},"axis":null}}},
{"data":{"name":"icon2"},"mark":{"type":"circle","color":"#777777","size":100,"opacity":1},
 "encoding":{"x":{"field":"x","type":"quantitative","scale":{"domain":[-0.3493,82.1164],"nice":false,"zero":false},"axis":null},"y":{"datum":-10.5,"type":"quantitative","scale":{"domain":[-9.524,653.968],"nice":false,"zero":false},"axis":null}}},
{"data":{"name":"bh"},"mark":{"type":"text","fontSize":12.5,"font":"Noto Sans CJK SC","baseline":"middle","align":"left"},
 "encoding":{"x":{"field":"x","type":"quantitative","scale":{"domain":[-0.3493,82.1164],"nice":false,"zero":false},"axis":null},"y":{"datum":150,"type":"quantitative","scale":{"domain":[-9.524,653.968],"nice":false,"zero":false},"axis":null},"text":{"field":"t"},
  "color":{"field":"c","type":"nominal","scale":{"domain":["w","wh","y","m","g"],"range":["#d0d0d0","#ffffff","#f0f000","#ff33ff","#808080"]},"legend":null}}},
{"data":{"name":"rh"},"mark":{"type":"text","fontSize":12.5,"font":"Noto Sans CJK SC","baseline":"middle","align":"left"},
 "encoding":{"x":{"field":"x","type":"quantitative","scale":{"domain":[-0.3493,82.1164],"nice":false,"zero":false},"axis":null},"y":{"datum":-10.5,"type":"quantitative","scale":{"domain":[-9.524,653.968],"nice":false,"zero":false},"axis":null},"text":{"field":"t"},
  "color":{"field":"c","type":"nominal","scale":{"domain":["w","wh","y","m","g"],"range":["#d0d0d0","#ffffff","#f0f000","#ff33ff","#808080"]},"legend":null}}}
]
}
],
"resolve": {"scale": {"y": "independent"}}
}
